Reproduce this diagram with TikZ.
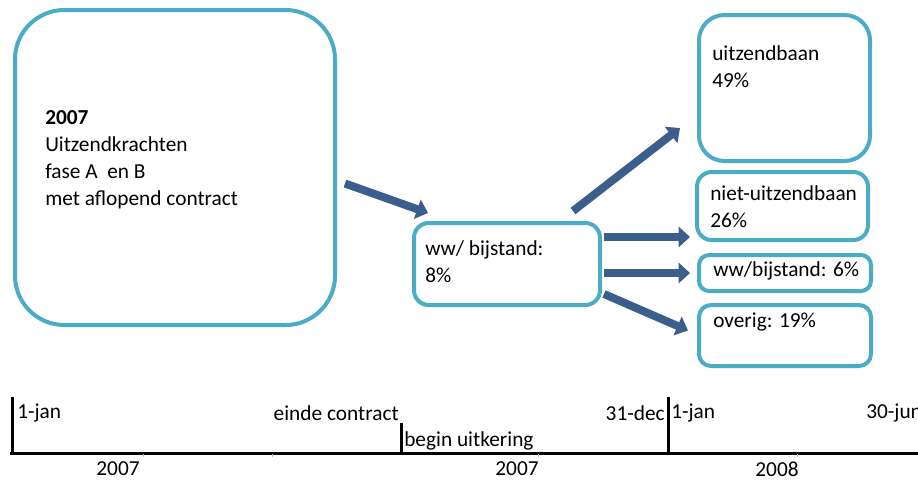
\documentclass[tikz,border=0pt]{standalone}
\usepackage{fontspec}
\setmainfont{Carlito}
\usetikzlibrary{arrows.meta,positioning}
\definecolor{Lichtblauw}{HTML}{4BACC6}
\definecolor{Donkerblauw}{HTML}{3B5E8C}

\begin{document}
\begin{tikzpicture}[
  x=0.75pt,
  y=-0.75pt,
  every node/.style={font=\fontsize{16}{20.25}\selectfont},
  vak/.style={draw=Lichtblauw,line width=3pt,fill=white,inner sep=0pt},
  tekst/.style={anchor=west,align=left,inner sep=0pt},
  flow/.style={-{Triangle[width=15pt,length=8.5pt]},line width=6pt,draw=Donkerblauw},
  as/.style={line width=2.25pt}
]
  \useasboundingbox (0,0) rectangle (918,480);
  \clip (0,0) rectangle (918,480);

  \node[vak,rounded corners=37pt,minimum width=240pt,minimum height=236.25pt] (bron) at (175,167.5) {};
  \node[tekst] (bronTekst) at (45,159.5)
    {\textbf{2007}\\Uitzendkrachten\\fase A\ \ en B\\met aflopend contract};

  \node[vak,rounded corners=11pt,minimum width=139.5pt,minimum height=61.5pt] (midden) at (507,264) {};
  \node[tekst] (middenTekst) at (425,261.5) {ww/ bijstand:\\8\%};

  \node[vak,rounded corners=19pt,minimum width=128.25pt,minimum height=109.5pt] (uitz) at (784.5,88) {};
  \node[tekst] (uitzTekst) at (712,66.5) {uitzendbaan\\49\%};
  \node[vak,rounded corners=11pt,minimum width=128.25pt,minimum height=51pt] (niet) at (782.5,206) {};
  \node[tekst] (nietTekst) at (710,206.5) {niet-uitzendbaan\\26\%};
  \node[vak,rounded corners=7.5pt,minimum width=129pt,minimum height=27pt] (ww) at (785,273) {};
  \node[tekst] (wwTekst) at (713,271) {ww/bijstand: 6\%};
  \node[vak,rounded corners=9pt,minimum width=129pt,minimum height=45.75pt] (overig) at (785,335.5) {};
  \node[tekst] (overigTekst) at (713,322) {overig: 19\%};

  \draw[flow] ([shift={(8,16)}]bron.east) -- ([shift={(16,-8)}]midden.north west);
  \draw[flow] ([shift={(66,-10)}]midden.north) -- ([shift={(-17,-35)}]uitz.south west);
  \draw[flow,shorten <=1.5pt,shorten >=3.75pt] (midden.east |- 0,237) -- (niet.west |- 0,237);
  \draw[flow,shorten <=1.5pt,shorten >=5.25pt] (midden.east |- ww.west) -- (ww.west);
  \draw[flow] ([shift={(2,30)}]midden.east) -- ([shift={(-9,-5)}]overig.west);

  \draw[as] (10,453) -- (918,453);
  \draw[as] (12,397) -- (12,454.5);
  \draw[as] (401,423) -- (401,454.5);
  \draw[as] (668,397) -- (668,454.5);
  \foreach \x in {143,272,538,797}
    \draw[gray!50,line width=0.6pt] (\x,454) -- (\x,457);

  \node[tekst] (jan7) at (17,413) {1-jan};
  \node[anchor=east,inner sep=0pt] (einde) at (399,413) {einde contract};
  \node[tekst] (begin) at (404,441) {begin uitkering};
  \node[anchor=east,inner sep=0pt] (dec) at (665,413) {31-dec};
  \node[tekst] (jan8) at (671,413) {1-jan};
  \node[tekst] (jun) at (866,413) {30-jun};
  \node[inner sep=0pt] (jaarA) at (118,469) {2007};
  \node[inner sep=0pt] (jaarB) at (517,469) {2007};
  \node[inner sep=0pt] (jaarC) at (777,469) {2008};
\end{tikzpicture}
\end{document}
